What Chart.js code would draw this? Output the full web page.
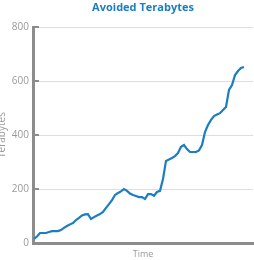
<!DOCTYPE html>
<html>
<head>
<meta charset="utf-8">
<script src="https://cdn.jsdelivr.net/npm/chart.js@4/dist/chart.umd.min.js"></script>
<style>
    html, body { margin: 0; padding: 0; background: #fff; }
    #wrap { position: relative; width: 254px; height: 260px; }
</style>
</head>
<body>
<div id="wrap"><canvas id="chart" width="254" height="260"></canvas></div>
<script>
(() => {
    'use strict';

    const TITLE = 'Avoided Terabytes';
    const Y_TITLE = 'Terabytes';
    const X_TITLE = 'Time';

    // time steps (evenly spaced samples along the time axis)
    const timeSteps = Array.from({length: 71}, (v, i) => i);

    // avoided terabytes
    const avoidedTB = [
        15, 24, 37, 37, 37, 41, 44, 44, 44, 48,
        56, 63, 69, 74, 85, 93, 102, 106, 107, 89,
        96, 102, 107, 115, 130, 144, 159, 178, 185, 191,
        200, 193, 183, 178, 174, 170, 170, 163, 181, 181,
        175, 189, 193, 237, 304, 309, 315, 322, 333, 356,
        363, 348, 337, 337, 337, 343, 363, 411, 437, 456,
        470, 476, 481, 493, 504, 567, 585, 622, 637, 648,
        652
    ];

    const yTicks = [0, 200, 400, 600, 800];

    const BLUE = '#1b7dc2';
    const AXIS_COLOR = '#8c8c8c';
    const GRID_COLOR = '#dedede';
    const LABEL_COLOR = '#9a9a9a';

    // short inward tick marks on the y axis + title centred over the plot
    const decorations = {
        id: 'decorations',
        afterDraw(chart) {
            const {ctx, chartArea, scales} = chart;
            const y = scales.y;

            ctx.save();
            ctx.strokeStyle = AXIS_COLOR;
            ctx.lineWidth = 2;
            y.ticks.forEach((t) => {
                const py = Math.round(y.getPixelForValue(t.value));
                ctx.beginPath();
                ctx.moveTo(chartArea.left, py);
                ctx.lineTo(chartArea.left + 6, py);
                ctx.stroke();
            });

            ctx.fillStyle = BLUE;
            ctx.font = 'bold 11px "Open Sans", sans-serif';
            ctx.textAlign = 'center';
            ctx.textBaseline = 'middle';
            ctx.fillText(TITLE, (chartArea.left + chartArea.right) / 2, 8);
            ctx.restore();
        }
    };

    new Chart(document.getElementById('chart').getContext('2d'), {
        type: 'line',
        data: {
            datasets: [{
                data: timeSteps.map((t, i) => ({x: t, y: avoidedTB[i]})),
                borderColor: BLUE,
                borderWidth: 2.2,
                borderJoinStyle: 'miter',
                pointRadius: 0,
                tension: 0,
                fill: false
            }]
        },
        options: {
            responsive: false,
            animation: false,
            devicePixelRatio: 1,
            layout: {padding: {top: 27, right: 1, left: 0, bottom: 0}},
            plugins: {
                legend: {display: false},
                tooltip: {enabled: false},
                title: {display: false}
            },
            scales: {
                x: {
                    type: 'linear',
                    min: -0.33,
                    max: 73,
                    grid: {display: false, drawTicks: false},
                    border: {display: true, color: AXIS_COLOR, width: 3},
                    ticks: {display: false},
                    title: {
                        display: true,
                        text: X_TITLE,
                        color: LABEL_COLOR,
                        padding: 0,
                        font: {family: '"Open Sans", sans-serif', size: 9, lineHeight: 1.33}
                    },
                    afterFit: (scale) => { scale.height = 17; }
                },
                y: {
                    min: 0,
                    max: 800,
                    afterBuildTicks: (scale) => { scale.ticks = yTicks.map(v => ({value: v})); },
                    grid: {color: GRID_COLOR, lineWidth: 1, drawTicks: false},
                    border: {display: true, color: AXIS_COLOR, width: 3},
                    ticks: {
                        color: LABEL_COLOR,
                        padding: 4,
                        font: {family: '"Open Sans", sans-serif', size: 10}
                    },
                    title: {
                        display: true,
                        text: Y_TITLE,
                        color: LABEL_COLOR,
                        padding: 0,
                        font: {family: '"Open Sans", sans-serif', size: 10, lineHeight: 0.5}
                    },
                    afterFit: (scale) => { scale.width = 33; }
                }
            }
        },
        plugins: [decorations]
    });
})();
</script>
</body>
</html>
